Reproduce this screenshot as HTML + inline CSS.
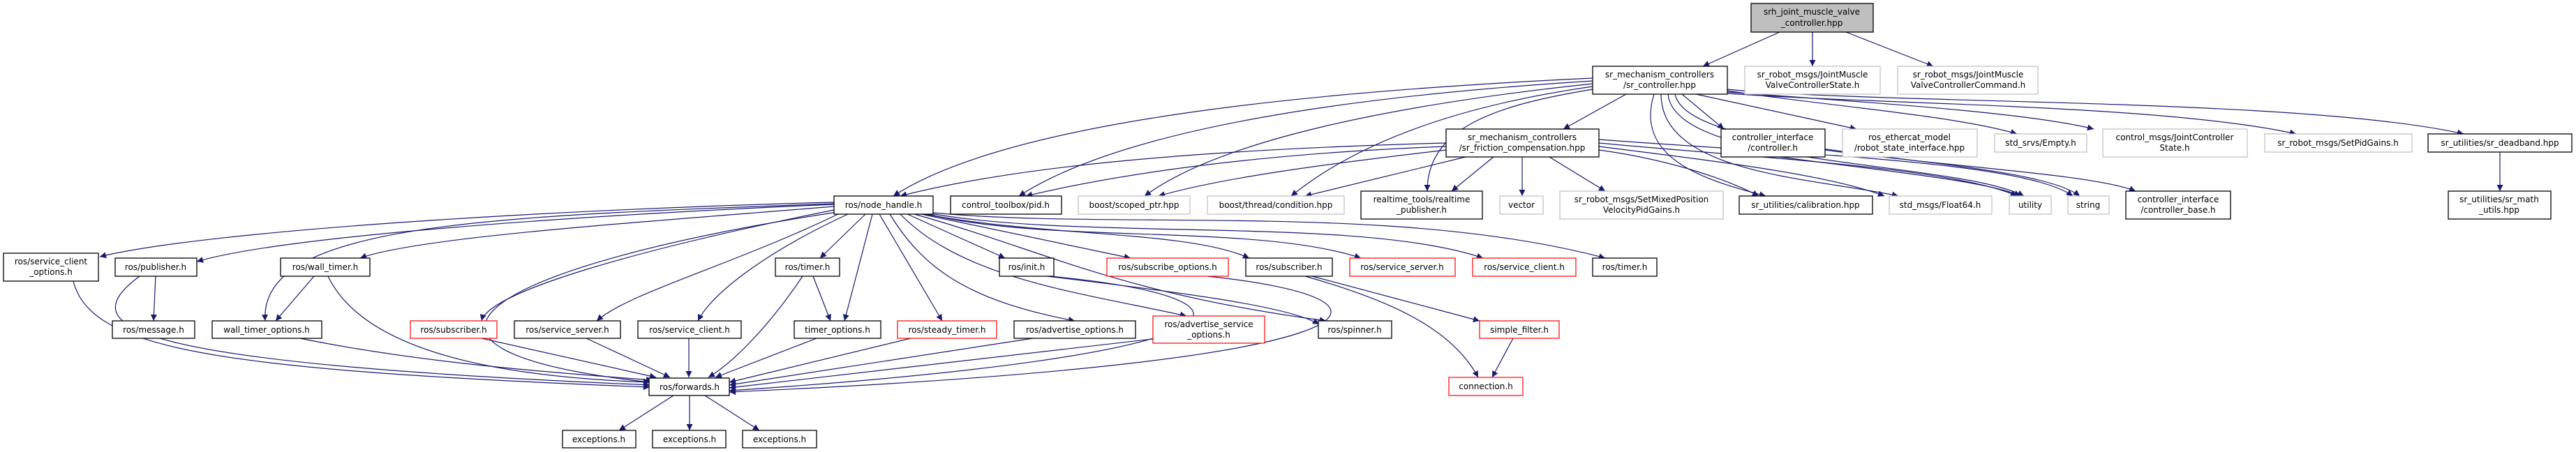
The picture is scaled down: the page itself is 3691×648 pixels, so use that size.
<!DOCTYPE html>
<html><head><meta charset="utf-8"><style>
html,body{margin:0;padding:0;background:#fff;}
svg{display:block;}
text{font-family:"DejaVu Sans","Liberation Sans",sans-serif;font-size:12px;fill:#000;text-anchor:middle;}
.e{fill:none;stroke:#191970;stroke-width:1.2;marker-end:url(#a);}
.b{fill:#fff;stroke:#000;stroke-width:1.3;}
.g{fill:#fff;stroke:#bfbfbf;stroke-width:1.2;}
.r{fill:#fff;stroke:#ff0000;stroke-width:1.2;}
</style></head><body>
<svg width="3691" height="648" viewBox="0 0 3691 648" xmlns="http://www.w3.org/2000/svg">
<defs><marker id="a" viewBox="0 0 10 10" refX="10" refY="5" markerWidth="12" markerHeight="9" markerUnits="userSpaceOnUse" orient="auto"><path d="M0,0 L10,5 L0,10 z" fill="#191970"/></marker></defs>
<g>
<path class="e" d="M2550,46 L2440,95"/>
<path class="e" d="M2597,46 L2597,95"/>
<path class="e" d="M2645,46 L2770,95"/>
<path class="e" d="M2282,112 C1900,130 1450,170 1280,281"/>
<path class="e" d="M2282,116 C1900,140 1600,190 1460,281"/>
<path class="e" d="M2282,120 C2000,150 1750,200 1640,281"/>
<path class="e" d="M2282,124 C2100,150 1950,200 1850,281"/>
<path class="e" d="M2282,128 C2150,150 2045,180 2045,274"/>
<path class="e" d="M2330,135 L2240,185"/>
<path class="e" d="M2410,135 L2470,185"/>
<path class="e" d="M2430,135 L2660,185"/>
<path class="e" d="M2475,130 C2600,150 2800,165 2890,192"/>
<path class="e" d="M2475,132 C2650,145 2900,160 3000,185"/>
<path class="e" d="M2475,134 C2700,150 3100,150 3290,192"/>
<path class="e" d="M2475,128 C2700,150 3300,140 3530,192"/>
<path class="e" d="M2370,135 C2340,230 2450,260 2530,281"/>
<path class="e" d="M2380,135 C2380,250 2600,255 2720,281"/>
<path class="e" d="M2390,135 C2400,240 2800,230 2900,281"/>
<path class="e" d="M2400,135 C2420,230 2900,220 2980,281"/>
<path class="e" d="M2072,205 C1700,215 1450,240 1290,281"/>
<path class="e" d="M2072,210 C1800,220 1600,250 1470,281"/>
<path class="e" d="M2072,215 C1900,235 1750,255 1660,281"/>
<path class="e" d="M2100,225 L1870,281"/>
<path class="e" d="M2140,225 L2080,274"/>
<path class="e" d="M2181,225 L2181,281"/>
<path class="e" d="M2220,225 L2300,274"/>
<path class="e" d="M2291,215 C2400,230 2480,260 2520,281"/>
<path class="e" d="M2291,210 C2450,230 2620,250 2700,281"/>
<path class="e" d="M2291,205 C2500,225 2800,240 2890,281"/>
<path class="e" d="M2291,200 C2550,220 2900,230 2970,281"/>
<path class="e" d="M2615,215 C2800,240 3000,250 3060,274"/>
<path class="e" d="M2550,225 C2700,245 2850,260 2895,281"/>
<path class="e" d="M3582,218 L3582,274"/>
<path class="e" d="M1195,290 C800,300 300,330 143,368"/>
<path class="e" d="M1195,293 C800,310 400,340 282,375"/>
<path class="e" d="M1195,296 C900,320 600,340 516,370"/>
<path class="e" d="M1195,292 C700,310 370,320 380,460"/>
<path class="e" d="M1200,300 C900,360 700,420 690,460"/>
<path class="e" d="M1205,305 C1050,380 900,420 855,460"/>
<path class="e" d="M1215,307 C1100,360 1020,420 1000,460"/>
<path class="e" d="M1240,307 L1175,370"/>
<path class="e" d="M1250,307 L1210,460"/>
<path class="e" d="M1200,304 C700,380 500,500 931,548"/>
<path class="e" d="M1260,307 L1350,460"/>
<path class="e" d="M1275,307 C1320,380 1380,430 1540,460"/>
<path class="e" d="M1290,307 C1380,400 1550,420 1700,453"/>
<path class="e" d="M1300,307 L1440,370"/>
<path class="e" d="M1310,307 C1500,360 1600,420 1900,460"/>
<path class="e" d="M1320,307 L1620,370"/>
<path class="e" d="M1325,307 C1500,340 1700,330 1790,370"/>
<path class="e" d="M1330,307 C1500,350 1800,320 1950,370"/>
<path class="e" d="M1333,306 C1550,345 1950,310 2125,370"/>
<path class="e" d="M1337,305 C1600,330 2000,290 2300,370"/>
<path class="e" d="M105,403 C130,500 300,530 931,555"/>
<path class="e" d="M200,396 C100,470 180,520 931,552"/>
<path class="e" d="M223,396 L220,460"/>
<path class="e" d="M450,396 L395,460"/>
<path class="e" d="M470,396 C520,500 700,540 931,548"/>
<path class="e" d="M430,485 C600,520 800,535 935,545"/>
<path class="e" d="M690,485 L940,541"/>
<path class="e" d="M840,485 L960,541"/>
<path class="e" d="M987,485 L987,541"/>
<path class="e" d="M1150,396 C1100,470 1050,520 1015,541"/>
<path class="e" d="M1165,396 L1190,460"/>
<path class="e" d="M1170,485 L1025,541"/>
<path class="e" d="M1305,485 L1045,548"/>
<path class="e" d="M1480,485 L1045,552"/>
<path class="e" d="M1660,485 L1045,556"/>
<path class="e" d="M1505,396 C1850,430 1800,510 1045,560"/>
<path class="e" d="M1500,396 C1700,420 1850,440 1890,465"/>
<path class="e" d="M1730,396 C2050,430 2000,520 1045,562"/>
<path class="e" d="M1880,396 L2120,460"/>
<path class="e" d="M1870,396 C1990,430 2080,470 2118,541"/>
<path class="e" d="M2168,485 L2138,541"/>
<path class="e" d="M965,567 L887,617"/>
<path class="e" d="M988,567 L988,617"/>
<path class="e" d="M1010,567 L1088,617"/>
</g>
<g>
<rect x="2509" y="5" width="175" height="41" fill="#bfbfbf" stroke="#000" stroke-width="1.3"/><text x="2596" y="21">srh_joint_muscle_valve</text><text x="2596" y="37">_controller.hpp</text>
<rect class="g" x="2500" y="95" width="194" height="40"/><text x="2597" y="111">sr_robot_msgs/JointMuscle</text><text x="2597" y="126">ValveControllerState.h</text>
<rect class="g" x="2719" y="95" width="201" height="40"/><text x="2820" y="111">sr_robot_msgs/JointMuscle</text><text x="2820" y="126">ValveControllerCommand.h</text>
<rect class="b" x="2282" y="95" width="193" height="40"/><text x="2378" y="111">sr_mechanism_controllers</text><text x="2378" y="126">/sr_controller.hpp</text>
<rect class="b" x="2466" y="185" width="149" height="40"/><text x="2540" y="201">controller_interface</text><text x="2540" y="216">/controller.h</text>
<rect class="g" x="2640" y="185" width="193" height="40"/><text x="2736" y="201">ros_ethercat_model</text><text x="2736" y="216">/robot_state_interface.hpp</text>
<rect class="g" x="2858" y="192" width="132" height="26"/><text x="2924" y="209">std_srvs/Empty.h</text>
<rect class="g" x="3013" y="185" width="207" height="40"/><text x="3116" y="201">control_msgs/JointController</text><text x="3116" y="216">State.h</text>
<rect class="g" x="3245" y="192" width="211" height="26"/><text x="3350" y="209">sr_robot_msgs/SetPidGains.h</text>
<rect class="b" x="3479" y="192" width="206" height="26"/><text x="3582" y="209">sr_utilities/sr_deadband.hpp</text>
<rect class="b" x="3508" y="274" width="147" height="40"/><text x="3581" y="290">sr_utilities/sr_math</text><text x="3581" y="305">_utils.hpp</text>
<rect class="b" x="2072" y="185" width="219" height="40"/><text x="2181" y="201">sr_mechanism_controllers</text><text x="2181" y="216">/sr_friction_compensation.hpp</text>
<rect class="b" x="1195" y="281" width="142" height="26"/><text x="1266" y="298">ros/node_handle.h</text>
<rect class="b" x="1362" y="281" width="159" height="26"/><text x="1441" y="298">control_toolbox/pid.h</text>
<rect class="g" x="1545" y="281" width="160" height="26"/><text x="1625" y="298">boost/scoped_ptr.hpp</text>
<rect class="g" x="1730" y="281" width="196" height="26"/><text x="1828" y="298">boost/thread/condition.hpp</text>
<rect class="b" x="1950" y="274" width="174" height="40"/><text x="2037" y="290">realtime_tools/realtime</text><text x="2037" y="305">_publisher.h</text>
<rect class="g" x="2149" y="281" width="62" height="26"/><text x="2180" y="298">vector</text>
<rect class="g" x="2235" y="274" width="234" height="40"/><text x="2352" y="290">sr_robot_msgs/SetMixedPosition</text><text x="2352" y="305">VelocityPidGains.h</text>
<rect class="b" x="2492" y="281" width="191" height="26"/><text x="2587" y="298">sr_utilities/calibration.hpp</text>
<rect class="g" x="2707" y="281" width="147" height="26"/><text x="2780" y="298">std_msgs/Float64.h</text>
<rect class="g" x="2879" y="281" width="60" height="26"/><text x="2909" y="298">utility</text>
<rect class="g" x="2963" y="281" width="59" height="26"/><text x="2992" y="298">string</text>
<rect class="b" x="3046" y="274" width="150" height="40"/><text x="3121" y="290">controller_interface</text><text x="3121" y="305">/controller_base.h</text>
<rect class="b" x="5" y="363" width="136" height="40"/><text x="73" y="379">ros/service_client</text><text x="73" y="394">_options.h</text>
<rect class="b" x="165" y="370" width="117" height="26"/><text x="223" y="387">ros/publisher.h</text>
<rect class="b" x="402" y="370" width="128" height="26"/><text x="466" y="387">ros/wall_timer.h</text>
<rect class="b" x="1111" y="370" width="92" height="26"/><text x="1157" y="387">ros/timer.h</text>
<rect class="b" x="1432" y="370" width="78" height="26"/><text x="1471" y="387">ros/init.h</text>
<rect class="r" x="1586" y="370" width="174" height="26"/><text x="1673" y="387">ros/subscribe_options.h</text>
<rect class="b" x="1785" y="370" width="124" height="26"/><text x="1847" y="387">ros/subscriber.h</text>
<rect class="r" x="1934" y="370" width="151" height="26"/><text x="2009" y="387">ros/service_server.h</text>
<rect class="r" x="2110" y="370" width="148" height="26"/><text x="2184" y="387">ros/service_client.h</text>
<rect class="b" x="2282" y="370" width="92" height="26"/><text x="2328" y="387">ros/timer.h</text>
<rect class="b" x="161" y="460" width="118" height="25"/><text x="220" y="477">ros/message.h</text>
<rect class="b" x="304" y="460" width="157" height="25"/><text x="382" y="477">wall_timer_options.h</text>
<rect class="r" x="588" y="460" width="124" height="25"/><text x="650" y="477">ros/subscriber.h</text>
<rect class="b" x="737" y="460" width="152" height="25"/><text x="813" y="477">ros/service_server.h</text>
<rect class="b" x="914" y="460" width="148" height="25"/><text x="988" y="477">ros/service_client.h</text>
<rect class="b" x="1138" y="460" width="124" height="25"/><text x="1200" y="477">timer_options.h</text>
<rect class="r" x="1286" y="460" width="142" height="25"/><text x="1357" y="477">ros/steady_timer.h</text>
<rect class="b" x="1453" y="460" width="174" height="25"/><text x="1540" y="477">ros/advertise_options.h</text>
<rect class="r" x="1652" y="453" width="160" height="39"/><text x="1732" y="469">ros/advertise_service</text><text x="1732" y="484">_options.h</text>
<rect class="b" x="1889" y="460" width="105" height="25"/><text x="1941" y="477">ros/spinner.h</text>
<rect class="r" x="2120" y="460" width="114" height="25"/><text x="2177" y="477">simple_filter.h</text>
<rect class="b" x="930" y="542" width="115" height="25"/><text x="988" y="559">ros/forwards.h</text>
<rect class="r" x="2076" y="541" width="106" height="26"/><text x="2129" y="558">connection.h</text>
<rect class="b" x="806" y="617" width="105" height="25"/><text x="858" y="634">exceptions.h</text>
<rect class="b" x="935" y="617" width="105" height="25"/><text x="988" y="634">exceptions.h</text>
<rect class="b" x="1064" y="617" width="106" height="25"/><text x="1117" y="634">exceptions.h</text>
</g>
</svg>
</body></html>
